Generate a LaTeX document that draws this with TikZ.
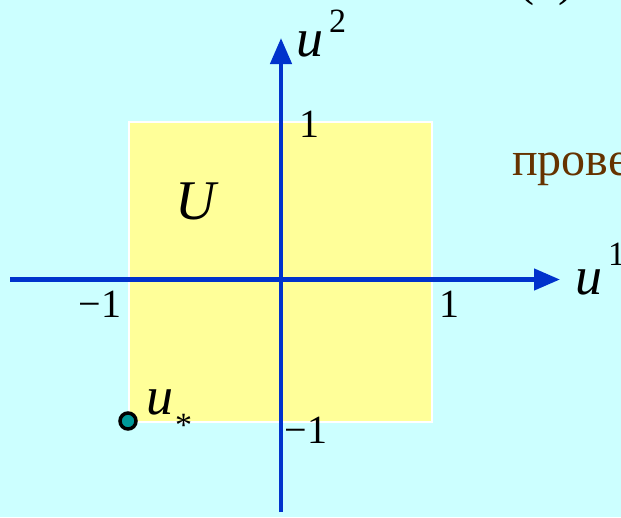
\documentclass[tikz,border=0pt]{standalone}
\usepackage{fontspec}
\setmainfont{Liberation Serif}
\usetikzlibrary{arrows.meta}
\definecolor{bgc}{HTML}{CCFFFF}
\definecolor{sqc}{HTML}{FFFF99}
\definecolor{axc}{HTML}{0033CC}
\definecolor{brc}{HTML}{663300}
\definecolor{dotc}{HTML}{009999}
\begin{document}
\begin{tikzpicture}[x=1pt,y=-1pt,
  axisline/.style={axc, line width=4.5pt, -{Triangle[length=26pt,width=21pt]}},
  numlbl/.style={anchor=base, inner sep=0pt, font=\fontsize{40}{46}\selectfont},
  varlbl/.style={anchor=base west, inner sep=0pt, font=\fontsize{54}{64}\selectfont\itshape},
  suplbl/.style={anchor=base west, inner sep=0pt, font=\fontsize{34}{40}\selectfont},
  setbox/.style={draw=white, line width=1.5pt, fill=sqc, minimum width=303pt, minimum height=300pt, inner sep=0pt, anchor=north west},
  ptdot/.style={circle, draw=black, line width=3.5pt, fill=dotc, minimum size=16pt, inner sep=0pt}]
\path[use as bounding box, fill=bgc] (0,0) rectangle (621,517);
% equation number fragment and cut text
\node[anchor=base west, inner sep=0pt, font=\fontsize{48}{56}\selectfont] (eqn) at (518,-5) {(\phantom{1})};
\node[anchor=base west, inner sep=0pt, text=brc, font=\fontsize{48}{56}\selectfont] (prove) at (512,175) {прове};
% set U
\node[setbox] (U) at (128,121) {};
\node[anchor=base, inner sep=0pt, font=\fontsize{56}{66}\selectfont\itshape] (Ulbl) at (196,219) {U};
% axes
\coordinate (xs) at (10,279.5);
\coordinate (xe) at (560,279.5);
\coordinate (ys) at (281,512);
\coordinate (ye) at (281,38);
\draw[axisline] (xs) -- (xe);
\draw[axisline] (ys) -- (ye);
% axis labels
\node[varlbl] (u1) at (575,294) {u};
\node[suplbl] (u1s) at (608,265) {1};
\node[varlbl] (u2) at (296,56) {u};
\node[suplbl] (u2s) at (329,32) {2};
% tick labels
\node[numlbl] (t1) at (309,137) {1};
\node[numlbl] (r1) at (449,317) {1};
\node[numlbl] (l1) at (100,317) {−1};
\node[numlbl] (b1) at (306,443) {−1};
% point u_*
\node[ptdot] (ustar) at (128,421) {};
\node[varlbl] (us) at (146,414) {u};
\node[suplbl] (usub) at (175,436) {*};
\end{tikzpicture}
\end{document}
